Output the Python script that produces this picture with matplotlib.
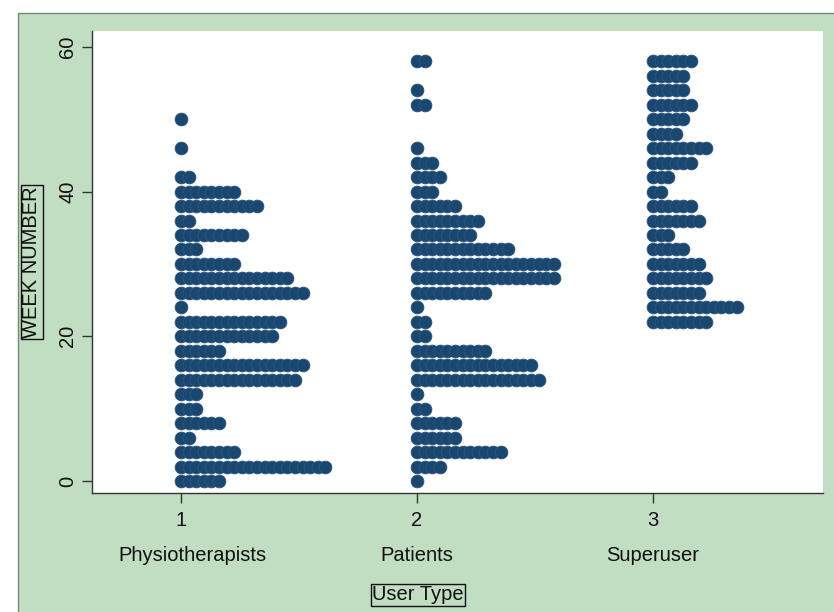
import matplotlib
matplotlib.use("Agg")
import matplotlib.pyplot as plt
from matplotlib.patches import Rectangle

plt.rcParams['font.family'] = ['Liberation Sans', 'DejaVu Sans']

# semaines (lignes de points) et nombre de points par groupe
weeks = list(range(0, 60, 2))
physio = [6, 20, 8, 2, 6, 3, 3, 16, 17, 6, 13, 14, 1, 17, 15, 8, 3, 9, 2, 11,
          8, 2, 0, 1, 0, 1, 0, 0, 0, 0]
patients = [1, 4, 12, 6, 6, 2, 1, 17, 16, 10, 2, 2, 1, 10, 19, 19, 13, 8, 9, 6,
            3, 4, 3, 1, 0, 0, 2, 1, 0, 2]
superuser = [0, 0, 0, 0, 0, 0, 0, 0, 0, 0, 0, 8, 12, 7, 8, 7, 5, 3, 7, 6,
             2, 3, 6, 8, 4, 5, 6, 5, 5, 6]
groups = [1, 2, 3]
group_names = ["Physiotherapists", "Patients", "Superuser"]

step = 0.0322  # ecart horizontal entre les points
navy = '#1a476f'
green = '#c2dec2'

fig = plt.figure(figsize=(8.34, 6.12), dpi=100)
fig.patch.set_facecolor('white')
fig.patches.append(Rectangle((18 / 834, -0.01), 1.0, 1 - 13 / 612 + 0.01,
                             transform=fig.transFigure, facecolor=green,
                             edgecolor='#6f8a6f', linewidth=1.0, zorder=-10))

ax = fig.add_axes([92 / 834, (612 - 493) / 612, (823 - 92) / 834, (493 - 31) / 612])
ax.set_facecolor('white')

for g, counts in zip(groups, [physio, patients, superuser]):
    xs, ys = [], []
    for w, n in zip(weeks, counts):
        for k in range(n):
            xs.append(g + k * step)
            ys.append(w)
    ax.plot(xs, ys, 'o', color=navy, markersize=9.2, markeredgewidth=0.6,
            markeredgecolor='#2c5680', linestyle='none')

ax.set_xlim(0.623, 3.72)
ax.set_ylim(-1.66, 62.2)
ax.set_xticks(groups)
ax.set_xticklabels([str(g) for g in groups])
ax.set_yticks([0, 20, 40, 60])
ax.set_yticklabels(['0', '20', '40', '60'], rotation=90, va='center')

for s in ['top', 'right']:
    ax.spines[s].set_visible(False)
for s in ['left', 'bottom']:
    ax.spines[s].set_color('#333333')
    ax.spines[s].set_linewidth(1.0)
ax.tick_params(axis='both', colors='#333333', labelsize=14.5, length=7, width=1,
               labelcolor='#111111')
ax.tick_params(axis='x', pad=6)

for g, name in zip(groups, group_names):
    ax.text(g + 0.05 if g == 1 else g, -0.135, name, transform=ax.get_xaxis_transform(),
            ha='center', va='center', fontsize=14.5, color='#111111')

box = dict(boxstyle='square,pad=0.05', facecolor='none', edgecolor='#111111', linewidth=1)
fig.text(418 / 834, 1 - 595 / 612, "User Type", ha='center', va='center',
         fontsize=14.5, color='#111111', bbox=box)
fig.text(32 / 834, 1 - 262 / 612, "WEEK NUMBER", ha='center', va='center',
         rotation=90, fontsize=14.5, color='#111111', bbox=box)

fig.savefig("out.png", dpi=100, facecolor=fig.get_facecolor())
